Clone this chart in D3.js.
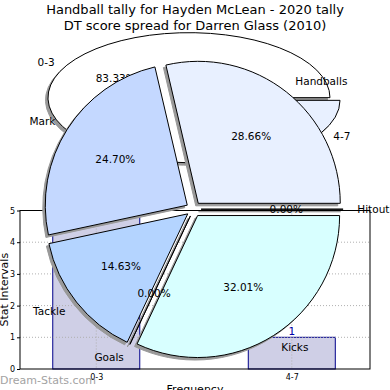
<!DOCTYPE html>
<html><head><meta charset="utf-8">
<script src="https://cdn.jsdelivr.net/npm/d3@7"></script>
<style>body{margin:0;background:#fff}svg{display:block;font-family:"DejaVu Sans",sans-serif}</style>
</head><body>
<script>
// ---- data ----
const titleLines = ["Handball tally for Hayden McLean - 2020 tally", "DT score spread for Darren Glass (2010)"];
// Handball pie
const statNames = ["Handballs", "Mark", "Tackle", "Goals", "Kicks", "Hitout"];
const statShares = [28.66, 24.70, 14.63, 0.00, 32.01, 0.00];
const statColors = ["#e8f0ff", "#c4d8ff", "#b4d4ff", "#cce0ff", "#d8ffff", "#e0e8ff"];
// DT score spread pie
const dtBands = ["0-3", "4-7"];
const dtCounts = [5, 1];
const dtColors = ["#ffffff", "#e8f0ff"];
// Bar chart
const barCategories = ["0-3", "4-7"];
const barValues = [5, 1];
const yTicks = [0, 1, 2, 3, 4, 5];

const W = 390, H = 390;
const svg = d3.select("body").append("svg").attr("width", W).attr("height", H);

// ---------- bar chart (bottom layer) ----------
const plot = {l: 20, r: 370, t: 210.5, b: 369};
const y = d3.scaleLinear().domain([0, 5]).range([plot.b, plot.t]);
const xi = d3.scaleLinear().domain([-0.39, 1.4]).range([plot.l, plot.r]);
const barHalf = 0.2225;
const bars = svg.append("g");
bars.selectAll("rect").data(barValues).join("rect")
  .attr("x", (d, i) => xi(i - barHalf)).attr("width", (d, i) => xi(i + barHalf) - xi(i - barHalf))
  .attr("y", d => y(d)).attr("height", d => y(0) - y(d))
  .attr("fill", "#cfcfe6").attr("stroke", "#00008b").attr("stroke-width", 1);
// grid
const grid = svg.append("g").attr("stroke", "#b0b0b0").attr("stroke-dasharray", "1,2").attr("stroke-width", 1);
grid.selectAll("line.h").data(yTicks.slice(1, -1)).join("line")
  .attr("x1", plot.l).attr("x2", plot.r).attr("y1", d => y(d)).attr("y2", d => y(d));
grid.selectAll("line.v").data(barCategories).join("line")
  .attr("x1", (d, i) => xi(i)).attr("x2", (d, i) => xi(i)).attr("y1", plot.t).attr("y2", plot.b);
// frame
svg.append("rect").attr("x", plot.l).attr("y", plot.t).attr("width", plot.r - plot.l).attr("height", plot.b - plot.t)
  .attr("fill", "none").attr("stroke", "#000").attr("stroke-width", 1);
// y axis
const yAxis = d3.axisLeft(y).tickValues(yTicks).tickSize(3).tickFormat(d3.format("d"));
const ya = svg.append("g").attr("transform", `translate(${plot.l},0)`).call(yAxis);
ya.select(".domain").remove();
ya.selectAll("text").attr("font-size", 8).attr("font-family", "DejaVu Sans").attr("x", -5);
// x axis
const xAxis = d3.axisBottom(d3.scaleOrdinal().domain(barCategories).range(barCategories.map((c, i) => xi(i)))).tickSize(0);
const xa = svg.append("g").attr("transform", `translate(0,${plot.b})`).call(xAxis);
xa.select(".domain").remove();
xa.selectAll("text").attr("font-size", 8).attr("font-family", "DejaVu Sans").attr("dy", "0.95em");
// value labels
svg.append("g").selectAll("text").data(barValues).join("text")
  .attr("x", (d, i) => xi(i)).attr("y", d => y(d) - 2).attr("text-anchor", "middle")
  .attr("font-size", 10.5).attr("fill", "#0000aa").text(d => d);
svg.append("text").attr("transform", `translate(8,${(plot.t + plot.b) / 2}) rotate(-90)`)
  .attr("text-anchor", "middle").attr("font-size", 11).text("Stat Intervals");
svg.append("text").attr("x", (plot.l + plot.r) / 2).attr("y", 393).attr("text-anchor", "middle")
  .attr("font-size", 11).text("Frequency");

// ---------- DT score pie (middle layer, flattened) ----------
const dt = {cx: 194, cy: 99, rx: 141, ry: 65, explode: 5.8};
const dtPie = d3.pie().sort(null).startAngle(Math.PI / 2).endAngle(Math.PI / 2 - 2 * Math.PI)(dtCounts);
const dtTotal = d3.sum(dtCounts);
const dtArc = d3.arc().innerRadius(0).outerRadius(dt.rx);
const dtG = svg.append("g").attr("transform", `translate(${dt.cx},${dt.cy}) scale(1,${dt.ry / dt.rx})`);
const mid = d => (d.startAngle + d.endAngle) / 2;
dtG.selectAll("path.sh").data(dtPie).join("path")
  .attr("transform", d => `translate(${dt.explode * Math.sin(mid(d)) - 2.5},${-dt.explode * Math.cos(mid(d)) + 2.5 * dt.rx / dt.ry})`)
  .attr("d", dtArc).attr("fill", "#999").attr("stroke", "#999").attr("vector-effect", "non-scaling-stroke");
dtG.selectAll("path.sl").data(dtPie).join("path")
  .attr("transform", d => `translate(${dt.explode * Math.sin(mid(d))},${-dt.explode * Math.cos(mid(d))})`)
  .attr("d", dtArc).attr("fill", (d, i) => dtColors[i]).attr("stroke", "#000").attr("stroke-width", 1)
  .attr("vector-effect", "non-scaling-stroke");
const dtLbl = svg.append("g").attr("font-size", 10.5);
dtPie.forEach((d, i) => {
  const a = mid(d), s = Math.sin(a), c = -Math.cos(a);
  const rl = 1.1 * dt.rx + dt.explode, rp = 0.6 * dt.rx + dt.explode;
  dtLbl.append("text").attr("x", dt.cx + rl * s).attr("y", dt.cy + rl * c * dt.ry / dt.rx).attr("dy", "0.35em")
    .attr("text-anchor", s > 0 ? "start" : "end").text(dtBands[i]);
  dtLbl.append("text").attr("x", dt.cx + rp * s).attr("y", dt.cy + rp * c * dt.ry / dt.rx).attr("dy", "0.35em")
    .attr("text-anchor", "middle").text((100 * dtCounts[i] / dtTotal).toFixed(2) + "%");
});

// ---------- Handball pie (top layer) ----------
const hp = {cx: 193.6, cy: 209.2, r: 142, explode: 7.5};
const hPie = d3.pie().sort(null).startAngle(Math.PI / 2).endAngle(Math.PI / 2 - 2 * Math.PI)(statShares);
const hArc = d3.arc().innerRadius(0).outerRadius(hp.r);
const hG = svg.append("g").attr("transform", `translate(${hp.cx},${hp.cy})`);
const off = d => [hp.explode * Math.sin(mid(d)), -hp.explode * Math.cos(mid(d))];
hG.selectAll("path.sh").data(hPie).join("path")
  .attr("transform", d => `translate(${off(d)[0] - 2.5},${off(d)[1] + 2.5})`)
  .attr("d", hArc).attr("fill", "#999").attr("stroke", "#999").attr("stroke-width", 1);
hG.selectAll("path.sl").data(hPie).join("path")
  .attr("transform", d => `translate(${off(d)[0]},${off(d)[1]})`)
  .attr("d", hArc).attr("fill", (d, i) => statColors[i]).attr("stroke", "#000").attr("stroke-width", 1);
const hLbl = svg.append("g").attr("font-size", 10.5);
hPie.forEach((d, i) => {
  const a = mid(d), s = Math.sin(a), c = -Math.cos(a);
  const rl = 1.1 * hp.r + hp.explode, rp = 0.6 * hp.r + hp.explode;
  hLbl.append("text").attr("x", hp.cx + rl * s).attr("y", hp.cy + rl * c).attr("dy", "0.35em")
    .attr("text-anchor", s > 0.001 ? "start" : (s < -0.001 ? "end" : "middle")).text(statNames[i]);
  hLbl.append("text").attr("x", hp.cx + rp * s).attr("y", hp.cy + rp * c).attr("dy", "0.35em")
    .attr("text-anchor", "middle").text(statShares[i].toFixed(2) + "%");
});

// ---------- titles & watermark ----------
svg.append("g").selectAll("text").data(titleLines).join("text")
  .attr("x", W / 2).attr("y", (d, i) => 14 + 16 * i).attr("text-anchor", "middle")
  .attr("font-size", 13).text(d => d);
svg.append("text").attr("x", 0).attr("y", 384).attr("font-size", 11).attr("fill", "#999")
  .attr("opacity", 0.9).text("Dream-Stats.com");
</script>
</body></html>
